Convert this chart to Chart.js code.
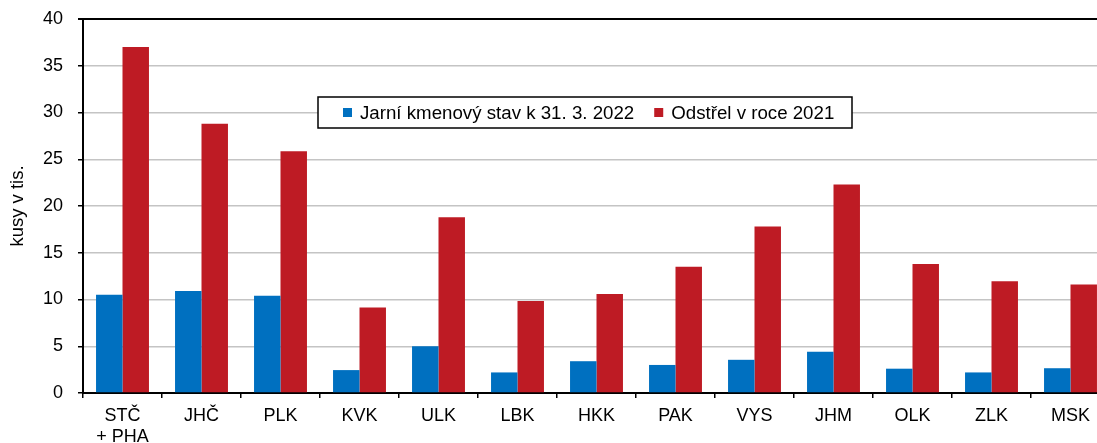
<!DOCTYPE html>
<html>
<head>
<meta charset="utf-8">
<script src="https://cdn.jsdelivr.net/npm/chart.js@4.4.1/dist/chart.umd.min.js"></script>
<style>
  html, body { margin: 0; padding: 0; background: #fff; overflow: hidden; }
  #wrap { width: 1114px; height: 443px; }
</style>
</head>
<body>
<div id="wrap"><canvas id="deerChart"></canvas></div>
<script>
// regions (kraje)
const regions = [["STČ", "+ PHA"], "JHČ", "PLK", "KVK", "ULK", "LBK", "HKK", "PAK", "VYS", "JHM", "OLK", "ZLK", "MSK"];
// spring stock as of 31 March 2022, thousands
const springStock = [10.5, 10.9, 10.4, 2.45, 5.0, 2.2, 3.4, 3.0, 3.55, 4.4, 2.6, 2.2, 2.65];
// hunting bag in 2021, thousands
const harvest2021 = [37.0, 28.8, 25.85, 9.15, 18.8, 9.85, 10.6, 13.5, 17.8, 22.3, 13.8, 11.95, 11.6];
const yTicks = [0, 5, 10, 15, 20, 25, 30, 35, 40];

const FONT = "'Liberation Sans', Arial, sans-serif";

// legend drawn inside plot area, like the original
const boxLegend = {
  id: 'boxLegend',
  afterDraw(chart) {
    const ctx = chart.ctx;
    const x = 318, y = 97, w = 534, h = 31;
    ctx.save();
    ctx.fillStyle = '#fff';
    ctx.fillRect(x, y, w, h);
    ctx.strokeStyle = '#000';
    ctx.lineWidth = 1.5;
    ctx.strokeRect(x, y, w, h);
    ctx.font = '18.7px ' + FONT;
    ctx.textBaseline = 'middle';
    let cx = x + 25;
    chart.data.datasets.forEach(ds => {
      ctx.fillStyle = ds.backgroundColor;
      ctx.fillRect(cx, y + h / 2 - 4.5, 9, 9);
      cx += 17;
      ctx.fillStyle = '#000';
      ctx.fillText(ds.label, cx, y + h / 2 + 1);
      cx += ctx.measureText(ds.label).width + 20;
    });
    ctx.restore();
  }
};

new Chart(document.getElementById('deerChart'), {
  type: 'bar',
  data: {
    labels: regions,
    datasets: [
      { label: 'Jarní kmenový stav k 31. 3. 2022', data: springStock, backgroundColor: '#0070C0' },
      { label: 'Odstřel v roce 2021', data: harvest2021, backgroundColor: '#BE1B24' }
    ]
  },
  options: {
    responsive: true,
    maintainAspectRatio: false,
    animation: false,
    layout: { padding: { top: 19, right: 4, left: 0, bottom: 0 } },
    datasets: { bar: { categoryPercentage: 0.67, barPercentage: 1 } },
    plugins: {
      legend: { display: false },
      tooltip: { enabled: false }
    },
    scales: {
      x: {
        offset: true,
        grid: { display: true, drawOnChartArea: false, offset: true, tickLength: 5, color: '#000', lineWidth: 1.5 },
        border: { color: '#000', width: 2 },
        ticks: { color: '#000', font: { family: FONT, size: 18 }, padding: 7, maxRotation: 0, autoSkip: false },
        afterFit: s => { s.height = 50; }
      },
      y: {
        min: 0,
        max: 40,
        afterBuildTicks: s => { s.ticks = yTicks.map(v => ({ value: v })); },
        grid: {
          color: c => (c.tick && c.tick.value === 40) ? '#000' : '#C4C4C4',
          lineWidth: c => (c.tick && c.tick.value === 40) ? 2 : 1.5,
          tickColor: '#000',
          tickLength: 5
        },
        border: { color: '#000', width: 2 },
        ticks: { color: '#000', font: { family: FONT, size: 18 }, padding: 15 },
        title: { display: true, text: 'kusy v tis.', color: '#000', font: { family: FONT, size: 18.5 }, padding: { top: 7, bottom: 0 } },
        afterFit: s => { s.width = 83; s.paddingTop = 0; s.paddingBottom = 0; }
      }
    }
  },
  plugins: [boxLegend]
});
</script>
</body>
</html>
